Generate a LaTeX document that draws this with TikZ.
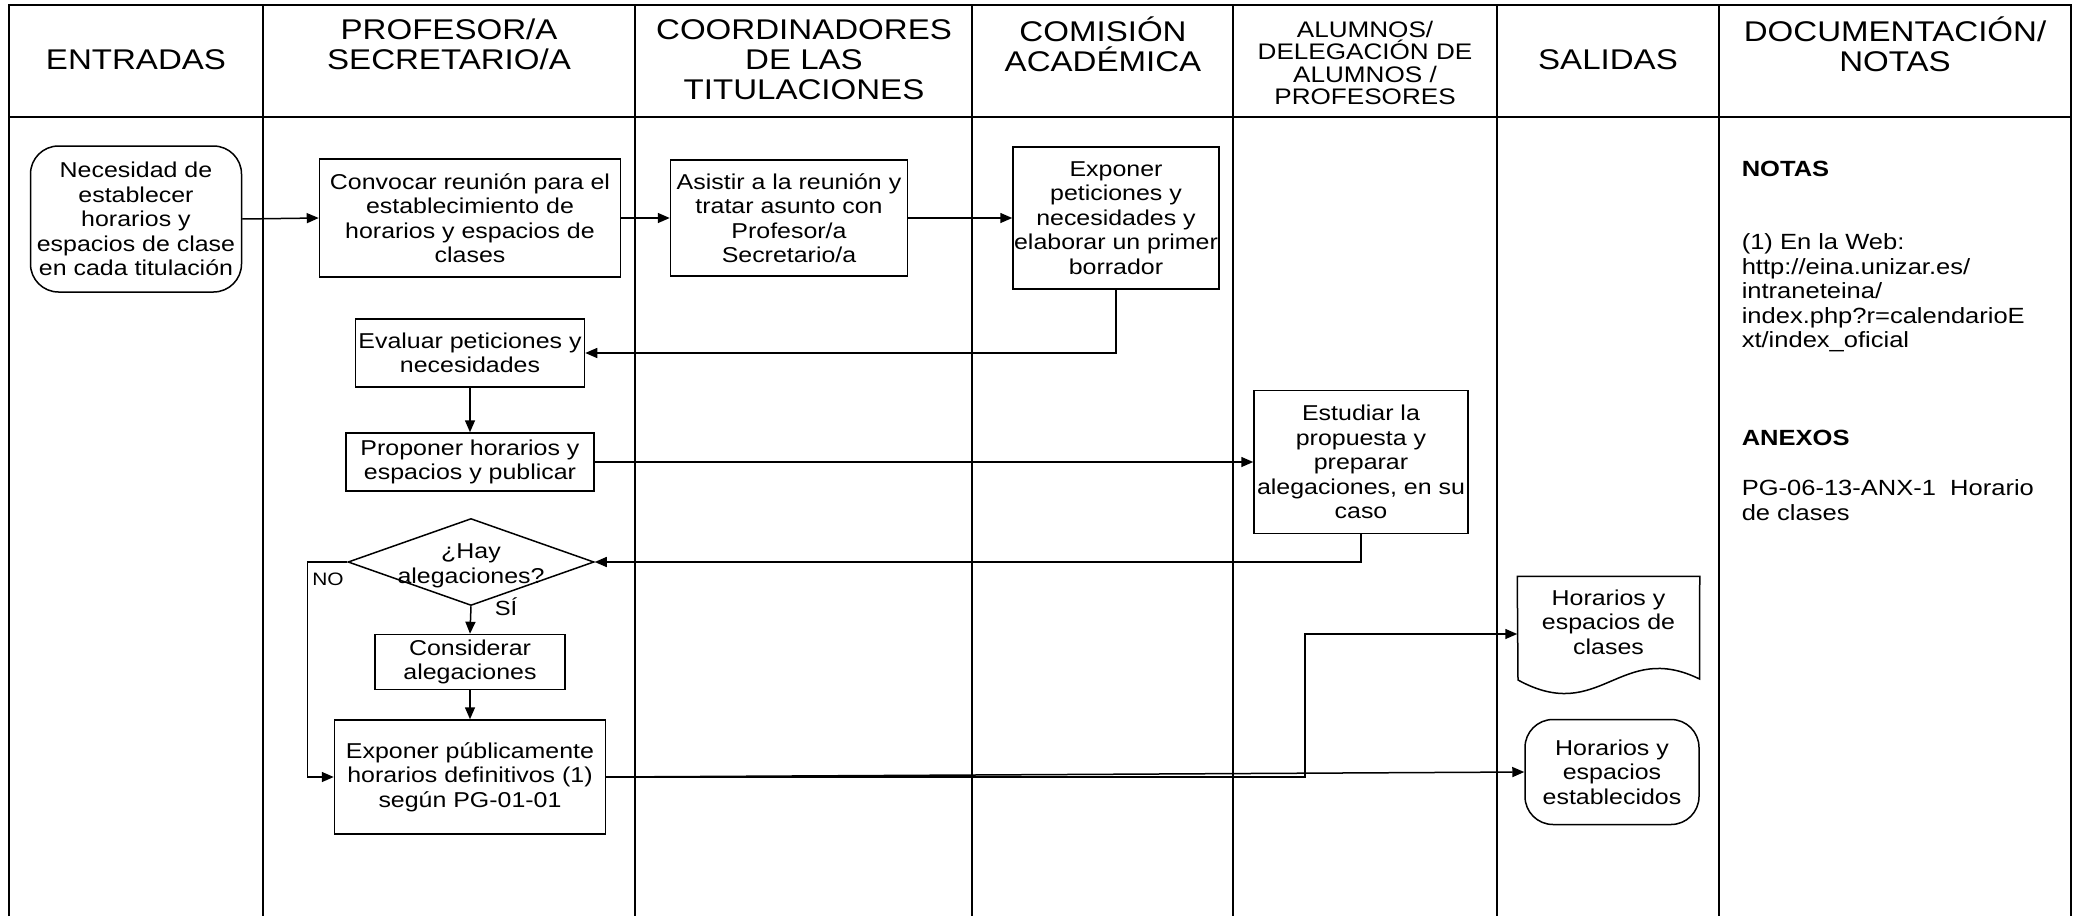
\documentclass[tikz,border=0pt]{standalone}
\usepackage{fontspec}
\setmainfont{Liberation Sans}[FakeStretch=1.16]
\usetikzlibrary{arrows.meta,positioning,shapes.geometric}

\begin{document}
\begin{tikzpicture}[x=1pt,y=-1pt,line width=1.5pt,>={Triangle[length=12pt,width=10pt]}]
\tikzset{box/.style={draw,align=center,inner sep=1pt,font=\fontsize{21.5}{24.4}\selectfont},
  term/.style={box,rounded corners=28pt},
  dec/.style={diamond,draw,inner sep=0pt,minimum width=246pt,minimum height=87pt},
  head/.style={align=center,font=\fontsize{28.5}{30}\selectfont},
  note/.style={anchor=west,align=left,inner sep=0pt,font=\fontsize{22}{24.5}\selectfont},
  lbl/.style={inner sep=0pt,font=\fontsize{18}{20}\selectfont}}
\useasboundingbox (0,0) rectangle (2080,916);
% lanes
\draw (9,916) -- (9,5) -- (2071,5) -- (2071,916);
\draw (9,117) -- (2071,117);
\foreach \x in {263,635,972,1233,1497,1719}
  \draw (\x,5) -- (\x,916);
\node[head] (hent) at (136,60) {ENTRADAS};
\node[head] (hprof) at (449,44) {PROFESOR/A\\SECRETARIO/A};
\node[head] (hcoord) at (804,60) {COORDINADORES\\DE LAS\\TITULACIONES};
\node[head] (hcom) at (1103,44) {COMISIÓN\\ACADÉMICA};
\node[head,font=\fontsize{22.5}{22.6}\selectfont] (halu) at (1365,63) {ALUMNOS/\\DELEGACIÓN DE\\ALUMNOS /\\PROFESORES};
\node[head] (hsal) at (1608,60) {SALIDAS};
\node[head] (hdoc) at (1895,44) {DOCUMENTACIÓN/\\NOTAS};
% process
\node[term,minimum width=211pt,minimum height=146pt] (nec) at (136,219) {Necesidad de\\establecer\\horarios y\\espacios de clase\\en cada titulación};
\node[box,minimum width=301pt,minimum height=118pt] (conv) at (470,218) {Convocar reunión para el\\establecimiento de\\horarios y espacios de\\clases};
\node[box,minimum width=237pt,minimum height=116pt] (asis) at (789,218) {Asistir a la reunión y\\tratar asunto con\\Profesor/a\\Secretario/a};
\node[box,minimum width=206pt,minimum height=142pt] (expo) at (1116,218) {Exponer\\peticiones y\\necesidades y\\elaborar un primer\\borrador};
\node[box,minimum width=229pt,minimum height=68pt] (eval) at (470,353) {Evaluar peticiones y\\necesidades};
\node[box,minimum width=248pt,minimum height=58pt] (prop) at (470,462) {Proponer horarios y\\espacios y publicar};
\node[box,minimum width=214pt,minimum height=143pt] (est) at (1361,462) {Estudiar la\\propuesta y\\preparar\\alegaciones, en su\\caso};
\node[dec] (dec) at (471,562) {};
\node[align=center,inner sep=0pt,font=\fontsize{21.5}{24.4}\selectfont] (dect) at (471,566) {¿Hay\\alegaciones?};
\node[box,minimum width=190pt,minimum height=55pt] (cons) at (470,662) {Considerar\\alegaciones};
\node[box,minimum width=271pt,minimum height=114pt] (pub) at (470,777) {Exponer públicamente\\horarios definitivos (1)\\según PG-01-01};
\node[box,draw=none,minimum width=181pt,minimum height=90pt] (doc) at (1608.5,622) {Horarios y\\espacios de\\clases};
\draw (doc.north west) -- (doc.north east) -- (1699.5,679) .. controls (1620,640) and (1600,725) .. (1518,680) -- cycle;
\node[term,minimum width=174pt,minimum height=105pt] (estb) at (1612,772) {Horarios y\\espacios\\establecidos};
\node[lbl] (no) at (328,579) {NO};
\node[lbl,font=\fontsize{20.5}{22}\selectfont] (si) at (506,607) {SÍ};
\coordinate (bend) at (1305,634);
% flows
\draw[->] (nec.east) -- (conv.west);
\draw[->] (conv.east) -- (asis.west);
\draw[->] (asis.east) -- (expo.west);
\draw[->] (expo.south) |- (eval.east);
\draw[->] (eval) -- (prop);
\draw[->] (prop.east) -- (est.west);
\draw[->] (est.south) |- (dec.east);
\draw[->] (dec.south) -- (cons.north);
\draw[->] (cons) -- (pub);
\draw[->] (dec.west) -- ++(-40,0) |- (pub.west);
\draw[->] (pub.east) -| (bend) -- ([yshift=-12pt]doc.west);
\draw[->] (pub.east) -- (estb.west);
% notes
\node[note,font=\fontsize{22}{24.5}\selectfont\bfseries] (notas) at (1741,169) {NOTAS};
\node[note] (web) at (1741,293) {(1) En la Web:\\http://eina.unizar.es/\\intraneteina/\\index.php?r=calendarioE\\xt/index\_oficial};
\node[note,font=\fontsize{22}{24.5}\selectfont\bfseries] (anexos) at (1741,438) {ANEXOS};
\node[note] (anx) at (1741,500) {PG-06-13-ANX-1~~Horario\\de clases};
\end{tikzpicture}
\end{document}
